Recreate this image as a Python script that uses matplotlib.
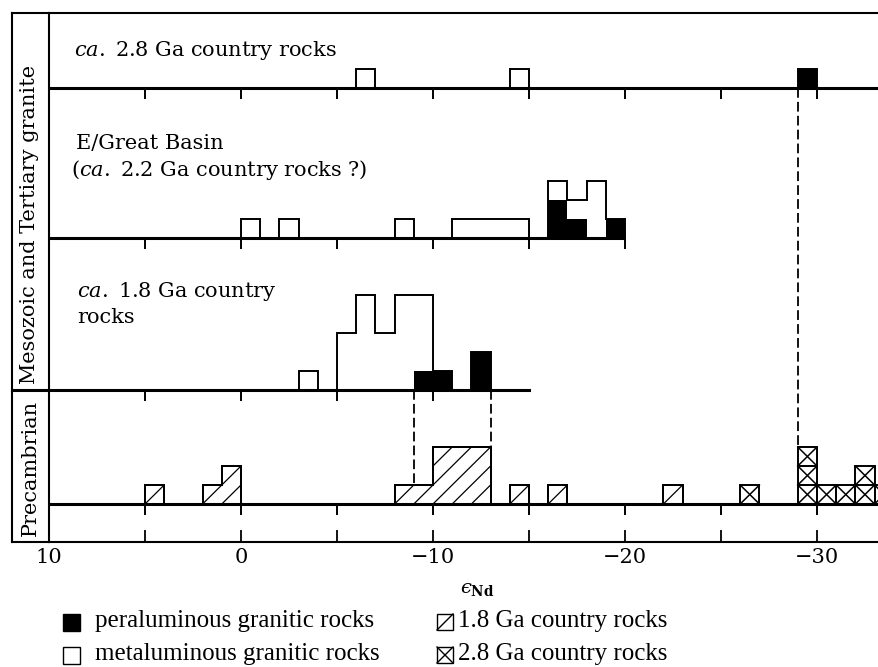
import numpy as np
import matplotlib.pyplot as plt
from matplotlib.patches import Rectangle

plt.rcParams['font.family'] = 'DejaVu Serif'
plt.rcParams['mathtext.fontset'] = 'dejavuserif'
plt.rcParams['lines.scale_dashes'] = False

# eps_Nd histogram bins (1 unit wide), given by bin centre, and counts
# ca. 2.8 Ga country rocks
p1_meta_bins = [-6.5, -14.5]
p1_meta_n = [1, 1]
p1_peral_bins = [-29.5]
p1_peral_n = [1]

# E/Great Basin
p2_meta_bins = [-0.5, -2.5, -8.5, -11.5, -12.5, -13.5, -14.5, -16.5, -17.5, -18.5]
p2_meta_n = [1, 1, 1, 1, 1, 1, 1, 1, 1, 3]
p2_peral_bins = [-16.5, -17.5, -19.5]
p2_peral_n = [2, 1, 1]

# ca. 1.8 Ga country rocks
p3_meta_bins = [-3.5, -5.5, -6.5, -7.5, -8.5, -9.5]
p3_meta_n = [1, 3, 5, 3, 5, 4]
p3_peral_bins = [-9.5, -10.5, -12.5]
p3_peral_n = [1, 1, 2]

# Precambrian
p4_18_bins = [4.5, 1.5, 0.5, -8.5, -9.5, -10.5, -11.5, -12.5, -14.5, -16.5, -22.5]
p4_18_n = [1, 1, 2, 1, 1, 3, 3, 3, 1, 1, 1]
p4_28_bins = [-26.5, -29.5, -30.5, -31.5, -32.5, -33.5]
p4_28_n = [1, 3, 1, 1, 2, 1]

# dashed tie lines (eps value, panel they start from)
tie_eps = [-29, -9, -13]
tie_from = [0, 2, 2]

xtick_labels = [10, 0, -10, -20, -30]

# layout (y in histogram count units)
bases = [23.9, 16, 8, 2]
y_top = 27.84
x_col = 11.93
x_right = -33.23
tick_len = 0.58

fig = plt.figure(figsize=(8.79, 6.67), dpi=100)
ax = fig.add_axes([49 / 879, 125 / 667, 830 / 879, 529 / 667])
ax.set_xlim(10, x_right)
ax.set_ylim(0, y_top)


def span(bins):
    lo = int(np.floor(min(bins)))
    hi = int(np.ceil(max(bins)))
    return np.arange(lo, hi + 1)


def on_grid(edges, bins, counts):
    vals = np.zeros(len(edges) - 1)
    for b, c in zip(bins, counts):
        vals[int(np.floor(b)) - edges[0]] += c
    return vals


def granite_panel(base, meta_bins, meta_n, peral_bins, peral_n):
    all_bins = list(meta_bins) + list(peral_bins)
    edges = span(all_bins)
    total = on_grid(edges, meta_bins, meta_n) + on_grid(edges, peral_bins, peral_n)
    ax.bar(peral_bins, peral_n, width=1, bottom=base, color='black', lw=0, zorder=2)
    ax.stairs(base + total, edges, baseline=base, color='black', lw=1.4, zorder=3)


granite_panel(bases[0], p1_meta_bins, p1_meta_n, p1_peral_bins, p1_peral_n)
granite_panel(bases[1], p2_meta_bins, p2_meta_n, p2_peral_bins, p2_peral_n)
granite_panel(bases[2], p3_meta_bins, p3_meta_n, p3_peral_bins, p3_peral_n)

# Precambrian: 1.8 Ga hatched histogram
b4 = bases[3]
e18 = span(p4_18_bins)
v18 = on_grid(e18, p4_18_bins, p4_18_n)
clip = ax.stairs(b4 + v18, e18, baseline=b4, fill=True, facecolor='white',
                 edgecolor='black', lw=1.4, zorder=2)
for c in range(e18[-1], e18[0] - 6, -1):
    ln, = ax.plot([c, c - 6], [b4, b4 + 6], color='black', lw=0.9, zorder=2)
    ln.set_clip_path(clip)
ax.stairs(b4 + v18, e18, baseline=b4, color='black', lw=1.4, zorder=3)

# Precambrian: 2.8 Ga boxes with crosses
for c, n in zip(p4_28_bins, p4_28_n):
    for k in range(n):
        x0 = c + 0.5
        ax.add_patch(Rectangle((x0, b4 + k), -1, 1, fill=False, ec='black', lw=1.4, zorder=3))
        ax.plot([x0, x0 - 1], [b4 + k, b4 + k + 1], color='black', lw=1.1, zorder=3)
        ax.plot([x0, x0 - 1], [b4 + k + 1, b4 + k], color='black', lw=1.1, zorder=3)

# baselines and their ticks
ax.hlines(bases[0], 10, x_right, color='black', lw=2.2, zorder=4)
ax.hlines(bases[1], 10, -20, color='black', lw=2.2, zorder=4)
ax.plot([x_col, -15], [bases[2], bases[2]], color='black', lw=2.2, zorder=4, clip_on=False)
ax.hlines(bases[3], 10, x_right, color='black', lw=2.2, zorder=4)
for base, last in zip(bases, [-30, -20, -10, -30]):
    tx = np.arange(5, last - 1, -5)
    ax.vlines(tx, base - tick_len, base, color='black', lw=1.4, zorder=4)

# dashed tie lines down to the Precambrian histogram
pre_edges = np.arange(-35, 11)
pre_tot = on_grid(pre_edges, p4_18_bins, p4_18_n) + on_grid(pre_edges, p4_28_bins, p4_28_n)
for e, src in zip(tie_eps, tie_from):
    i = e - pre_edges[0]
    y_end = b4 + max(pre_tot[i - 1], pre_tot[i])
    ax.plot([e, e], [bases[src], y_end], color='black', lw=1.3, dashes=(7, 3), zorder=1)

# left label column
ax.plot([x_col, x_col], [0, y_top], color='black', lw=1.5, clip_on=False)
ax.plot([x_col, 10], [y_top, y_top], color='black', lw=1.5, clip_on=False)
ax.plot([x_col, 10], [0, 0], color='black', lw=1.5, clip_on=False)
ax.text(10.99, 16.7, 'Mesozoic and Tertiary granite', rotation=90, ha='center',
        va='center', fontsize=15)
ax.text(10.99, 3.9, 'Precambrian', rotation=90, ha='center', va='center', fontsize=15)

# panel captions
ax.text(8.7, 25.6, r'$\it{ca.}$ 2.8 Ga country rocks', fontsize=15, va='baseline')
ax.text(8.6, 20.7, 'E/Great Basin', fontsize=15, va='baseline')
ax.text(8.85, 19.26, r'($\it{ca.}$ 2.2 Ga country rocks ?)', fontsize=15, va='baseline')
ax.text(8.54, 12.9, r'$\it{ca.}$ 1.8 Ga country', fontsize=15, va='baseline')
ax.text(8.54, 11.53, 'rocks', fontsize=15, va='baseline')

# axes frame and ticks
for s in ['left', 'top', 'bottom']:
    ax.spines[s].set_linewidth(1.5)
ax.spines['right'].set_visible(False)
ax.set_yticks([])
ax.set_xticks(xtick_labels)
ax.set_xticklabels([f'{v}'.replace('-', '\u2212') for v in xtick_labels])
ax.set_xticks([5, -5, -15, -25], minor=True)
ax.tick_params(axis='x', which='both', direction='in', length=8.6, width=1.3,
               labelsize=15, pad=4)
ax.set_xlabel('$\u03f5_{\\mathbf{Nd}}$', fontsize=14)
ax.xaxis.set_label_coords((477 - 49) / 830, (542 - 580) / 529)

# legend drawn in pixel space
lg = fig.add_axes([0, 0, 1, 1], zorder=-1)
lg.set_xlim(0, 879)
lg.set_ylim(667, 0)
lg.axis('off')
lg.add_patch(Rectangle((63, 614), 17, 17, fc='black', ec='black', lw=1))
lg.add_patch(Rectangle((63, 647), 17, 17, fc='white', ec='black', lw=1))
lg.add_patch(Rectangle((437, 614), 16, 16, fc='white', ec='black', lw=1))
lg.plot([437, 453], [630, 614], color='black', lw=1)
lg.add_patch(Rectangle((437, 647), 16, 16, fc='white', ec='black', lw=1))
lg.plot([437, 453], [663, 647], color='black', lw=1)
lg.plot([437, 453], [647, 663], color='black', lw=1)
leg_font = dict(family='Liberation Serif', fontsize=18, va='center')
lg.text(95, 621, 'peraluminous granitic rocks', **leg_font)
lg.text(95, 654, 'metaluminous granitic rocks', **leg_font)
lg.text(458, 621, '1.8 Ga country rocks', **leg_font)
lg.text(458, 654, '2.8 Ga country rocks', **leg_font)

fig.savefig('out.png', dpi=100)
